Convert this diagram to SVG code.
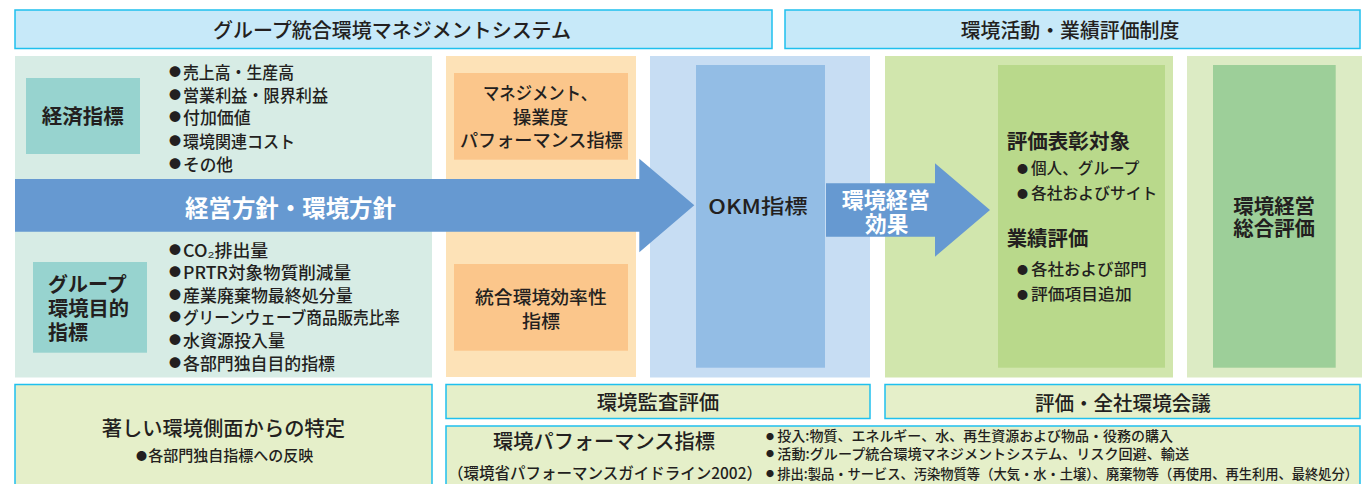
<svg xmlns="http://www.w3.org/2000/svg" width="1362" height="484" viewBox="0 0 1362 484">
<style>
text{font-family:"Noto Sans CJK JP","Noto Sans CJK SC",sans-serif;fill:#231f20;}
.hd{fill:#c7e9f9;stroke:#1fc0ee;stroke-width:1.5;}
.bx{fill:#e5efc9;stroke:#1fc0ee;stroke-width:1.5;}
.arrow{fill:#6699d1;}
.t20{font-size:20px;font-weight:500;}
.b20{font-size:20px;font-weight:bold;}
.m18{font-size:18px;font-weight:500;}
.l17{font-size:17px;font-weight:500;}
.l16{font-size:16px;font-weight:500;}
.l14{font-size:14px;font-weight:500;}
.w{fill:#ffffff;font-weight:bold;}
.dot{font-size:12px;}
</style>
<rect width="1362" height="484" fill="#ffffff"/>

<g id="header-ems">
<rect class="hd" x="15" y="10" width="757" height="38.5"/>
<text class="t20" x="213" y="37.6" textLength="358" lengthAdjust="spacingAndGlyphs">グループ統合環境マネジメントシステム</text>
</g>
<g id="header-eval">
<rect class="hd" x="785" y="10" width="575" height="38.5"/>
<text class="t20" x="960.7" y="37.6" textLength="218.6" lengthAdjust="spacingAndGlyphs">環境活動・業績評価制度</text>
</g>

<g id="panel-left">
<rect x="15" y="56" width="417" height="321.5" fill="#d7ece5"/>
</g>
<g id="economic">
<rect x="26" y="78" width="114" height="76" fill="#97d3cf"/>
<text class="b20" x="41.7" y="124" textLength="82" lengthAdjust="spacingAndGlyphs">経済指標</text>
<text class="dot" x="169" y="77.3">●</text>
<text class="l17" x="183" y="79.2" textLength="111" lengthAdjust="spacingAndGlyphs">売上高・生産高</text>
<text class="dot" x="169" y="99.6">●</text>
<text class="l17" x="183" y="101.5" textLength="145" lengthAdjust="spacingAndGlyphs">営業利益・限界利益</text>
<text class="dot" x="169" y="121.9">●</text>
<text class="l17" x="183" y="123.8" textLength="67.7" lengthAdjust="spacingAndGlyphs">付加価値</text>
<text class="dot" x="169" y="145.6">●</text>
<text class="l17" x="183" y="147.5" textLength="112" lengthAdjust="spacingAndGlyphs">環境関連コスト</text>
<text class="dot" x="169" y="168.6">●</text>
<text class="l17" x="183" y="170.5" textLength="50" lengthAdjust="spacingAndGlyphs">その他</text>
</g>
<g id="group-target">
<rect x="33" y="262" width="114" height="90.7" fill="#97d3cf"/>
<text class="b20" x="48" y="291.6" textLength="78.7" lengthAdjust="spacingAndGlyphs">グループ</text>
<text class="b20" x="48" y="315.6" textLength="81" lengthAdjust="spacingAndGlyphs">環境目的</text>
<text class="b20" x="48" y="340" textLength="40" lengthAdjust="spacingAndGlyphs">指標</text>
<text class="dot" x="169" y="254.6">●</text>
<text class="l17" x="183" y="256.5" textLength="85.3" lengthAdjust="spacingAndGlyphs">CO₂排出量</text>
<text class="dot" x="169" y="277.3">●</text>
<text class="l17" x="183" y="279.2" textLength="168" lengthAdjust="spacingAndGlyphs">PRTR対象物質削減量</text>
<text class="dot" x="169" y="300.3">●</text>
<text class="l17" x="183" y="302.2" textLength="169.7" lengthAdjust="spacingAndGlyphs">産業廃棄物最終処分量</text>
<text class="dot" x="169" y="321.9">●</text>
<text class="l17" x="183" y="323.8" textLength="217" lengthAdjust="spacingAndGlyphs">グリーンウェーブ商品販売比率</text>
<text class="dot" x="169" y="344.6">●</text>
<text class="l17" x="183" y="346.5" textLength="102" lengthAdjust="spacingAndGlyphs">水資源投入量</text>
<text class="dot" x="169" y="367.9">●</text>
<text class="l17" x="183" y="369.8" textLength="152" lengthAdjust="spacingAndGlyphs">各部門独自目的指標</text>
</g>

<g id="panel-orange">
<rect x="446" y="56" width="190" height="321" fill="#fde2b7"/>
</g>
<g id="management-index">
<rect x="454" y="73" width="174" height="86.7" fill="#fbc68b"/>
<text class="m18" x="483" y="99.8" textLength="114" lengthAdjust="spacingAndGlyphs">マネジメント、</text>
<text class="m18" x="512.7" y="124" textLength="55.6" lengthAdjust="spacingAndGlyphs">操業度</text>
<text class="m18" x="460" y="146.8" textLength="162.7" lengthAdjust="spacingAndGlyphs">パフォーマンス指標</text>
</g>
<g id="efficiency-index">
<rect x="454" y="264" width="174" height="86.7" fill="#fbc68b"/>
<text class="m18" x="475" y="303.5" textLength="131.7" lengthAdjust="spacingAndGlyphs">統合環境効率性</text>
<text class="m18" x="522" y="327.5" textLength="38" lengthAdjust="spacingAndGlyphs">指標</text>
</g>

<g id="okm">
<rect x="650" y="56" width="220" height="321.5" fill="#c7ddf3"/>
<rect x="696" y="65" width="129" height="302.7" fill="#93bde5"/>
<text class="t20" x="708.3" y="214.3" textLength="99.4" lengthAdjust="spacingAndGlyphs">OKM指標</text>
</g>

<g id="evaluation">
<rect x="885" y="56" width="288" height="321.5" fill="#d1e6ad"/>
<rect x="998" y="65" width="167" height="302.7" fill="#b9d98b"/>
<text class="b20" x="1006.7" y="149.3" textLength="123.3" lengthAdjust="spacingAndGlyphs">評価表彰対象</text>
<text class="dot" x="1017" y="172.9" style="font-size:11px">●</text>
<text class="l16" x="1031" y="174.4" textLength="108.3" lengthAdjust="spacingAndGlyphs">個人、グループ</text>
<text class="dot" x="1017" y="197.9" style="font-size:11px">●</text>
<text class="l16" x="1031" y="199.4" textLength="126.3" lengthAdjust="spacingAndGlyphs">各社およびサイト</text>
<text class="b20" x="1006.7" y="246" textLength="81.6" lengthAdjust="spacingAndGlyphs">業績評価</text>
<text class="dot" x="1017" y="273.9" style="font-size:11px">●</text>
<text class="l16" x="1031" y="275.4" textLength="115.7" lengthAdjust="spacingAndGlyphs">各社および部門</text>
<text class="dot" x="1017" y="298.9" style="font-size:11px">●</text>
<text class="l16" x="1031" y="300.4" textLength="100.7" lengthAdjust="spacingAndGlyphs">評価項目追加</text>
</g>

<g id="overall-evaluation">
<rect x="1187" y="56" width="175" height="321.5" fill="#dcebc4"/>
<rect x="1213" y="65" width="122.7" height="302.7" fill="#9dcf99"/>
<text class="b20" x="1233.3" y="214.3" textLength="81.7" lengthAdjust="spacingAndGlyphs">環境経営</text>
<text class="b20" x="1233.3" y="236" textLength="81.7" lengthAdjust="spacingAndGlyphs">総合評価</text>
</g>

<g id="connectors">
<polygon class="arrow" points="15,179 639.3,179 639.3,158.7 694.3,205.3 639.3,252.3 639.3,231.7 15,231.7"/>
<text class="w" x="185" y="216.6" style="font-size:24px" textLength="211" lengthAdjust="spacingAndGlyphs">経営方針・環境方針</text>
<polygon class="arrow" points="826,183.3 935,183.3 935,163.3 990,210 935,256.7 935,236.7 826,236.7"/>
<text class="w" x="841.7" y="207.7" style="font-size:22px" textLength="88" lengthAdjust="spacingAndGlyphs">環境経営</text>
<text class="w" x="865" y="231.7" style="font-size:22px" textLength="43.3" lengthAdjust="spacingAndGlyphs">効果</text>
</g>

<g id="aspects">
<rect class="bx" x="15" y="384.5" width="417" height="110"/>
<text class="t20" x="101.7" y="436" textLength="243.3" lengthAdjust="spacingAndGlyphs">著しい環境側面からの特定</text>
<text class="dot" x="136" y="459.5" style="font-size:11px">●</text>
<text class="l14" x="148.3" y="460.7" style="font-size:15px" textLength="165" lengthAdjust="spacingAndGlyphs">各部門独自指標への反映</text>
</g>

<g id="audit">
<rect class="bx" x="446" y="384.5" width="424" height="34"/>
<text class="t20" x="596.7" y="410.4" textLength="122.6" lengthAdjust="spacingAndGlyphs">環境監査評価</text>
</g>
<g id="council">
<rect class="bx" x="885" y="384.5" width="475" height="34"/>
<text class="t20" x="1035" y="411" textLength="175.7" lengthAdjust="spacingAndGlyphs">評価・全社環境会議</text>
</g>

<g id="performance">
<rect class="bx" x="446" y="426" width="914" height="70"/>
<text class="t20" x="493" y="449.3" textLength="222" lengthAdjust="spacingAndGlyphs">環境パフォーマンス指標</text>
<text class="l16" x="448" y="479.4" textLength="314" lengthAdjust="spacingAndGlyphs">（環境省パフォーマンスガイドライン2002）</text>
<text class="dot" x="766" y="439.5" style="font-size:8px">●</text>
<text class="l14" x="777.3" y="441.3" textLength="395.7" lengthAdjust="spacingAndGlyphs">投入:物質、エネルギー、水、再生資源および物品・役務の購入</text>
<text class="dot" x="766" y="457.2" style="font-size:8px">●</text>
<text class="l14" x="777.3" y="459" textLength="411.7" lengthAdjust="spacingAndGlyphs">活動:グループ統合環境マネジメントシステム、リスク回避、輸送</text>
<text class="dot" x="766" y="476.7" style="font-size:8px">●</text>
<text class="l14" x="777.3" y="478.5" textLength="580.7" lengthAdjust="spacingAndGlyphs">排出:製品・サービス、汚染物質等（大気・水・土壌）、廃棄物等（再使用、再生利用、最終処分）</text>
</g>
</svg>
